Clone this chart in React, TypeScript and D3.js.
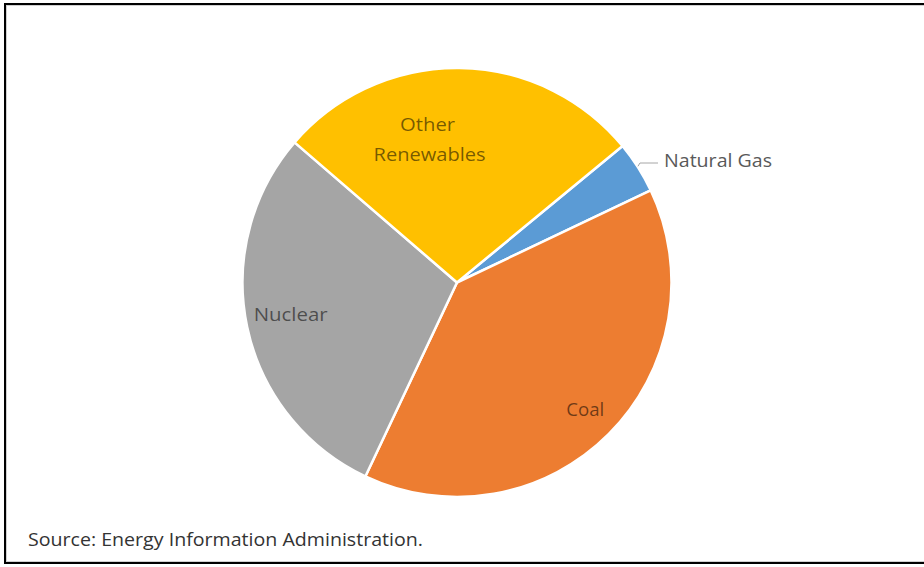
import React from "react";
import * as d3 from "d3";

const categories = ["Natural Gas", "Coal", "Nuclear", "Other Renewables"];
const values = [3.9, 39.1, 29.3, 27.7];
const colors = ["#5B9BD5", "#ED7D31", "#A5A5A5", "#FFC000"];
const sourceText = "Source: Energy Information Administration.";

const W = 924;
const H = 567;
const cx = 457;
const cy = 282.5;
const R = 214.5;
const startDeg = 50.5;

// label placement: [angle offset (deg) from slice mid, radius fraction]
const labelPlace: Record<string, { dAng: number; rf: number }> = {
  Coal: { dAng: 0, rf: 0.845 },
  Nuclear: { dAng: 1, rf: 0.79 },
  "Other Renewables": { dAng: -11.5, rf: 0.68 },
};

export default function App() {
  const pie = d3
    .pie<number>()
    .sort(null)
    .value((d) => d)
    .startAngle((startDeg * Math.PI) / 180)
    .endAngle((startDeg * Math.PI) / 180 + 2 * Math.PI);
  const arcs = pie(values);
  const arc = d3.arc<d3.PieArcDatum<number>>().innerRadius(0).outerRadius(R);

  const polar = (ang: number, r: number) => [r * Math.sin(ang), -r * Math.cos(ang)];

  return (
    <svg
      width={W}
      height={H}
      style={{ position: "absolute", left: 0, top: 0, background: "#fff" }}
      fontFamily="'Open Sans', sans-serif"
    >
      <rect x={0} y={0} width={W} height={H} fill="#fff" />
      <rect x={6.5} y={5.5} width={W + 10} height={556} fill="none" stroke="#d0d0d0" strokeWidth={1} />
      <rect x={5} y={4} width={W + 10} height={559} fill="none" stroke="#000" strokeWidth={2} />
      <g transform={`translate(${cx},${cy})`}>
        {arcs.map((a, i) => (
          <path key={categories[i]} d={arc(a) || ""} fill={colors[i]} stroke="#fff" strokeWidth={2.5} strokeLinejoin="round" />
        ))}
        {arcs.map((a, i) => {
          const name = categories[i];
          const mid = (a.startAngle + a.endAngle) / 2;
          if (name === "Natural Gas") {
            const [x0, y0] = polar(mid, R);
            return (
              <g key={name}>
                <polyline
                  points={`${x0},${y0 - 1} ${x0 + 2},${163 - cy} ${658 - cx},${163 - cy}`}
                  fill="none"
                  stroke="#a6a6a6"
                  strokeWidth={1}
                />
                <text x={664 - cx} y={167 - cy} fontSize={18.5} fill="#595959" textLength={108} lengthAdjust="spacingAndGlyphs">
                  {name}
                </text>
              </g>
            );
          }
          const p = labelPlace[name];
          const [lx, ly] = polar(mid + (p.dAng * Math.PI) / 180, R * p.rf);
          if (name === "Other Renewables") {
            return (
              <g key={name} fill="#000" fillOpacity={0.55} fontSize={18.5} textAnchor="middle">
                <text x={lx - 2} y={ly - 8} textLength={55} lengthAdjust="spacingAndGlyphs">Other</text>
                <text x={lx} y={ly + 22} textLength={112} lengthAdjust="spacingAndGlyphs">Renewables</text>
              </g>
            );
          }
          const tl = name === "Coal" ? 38 : 74;
          return (
            <text key={name} x={lx} y={ly + 6} fontSize={18.5} fill="#000" fillOpacity={0.55} textAnchor="middle" textLength={tl} lengthAdjust="spacingAndGlyphs">
              {name}
            </text>
          );
        })}
      </g>
      <text x={28} y={546} fontSize={17.5} fill="#333" textLength={395} lengthAdjust="spacingAndGlyphs">
        {sourceText}
      </text>
    </svg>
  );
}
